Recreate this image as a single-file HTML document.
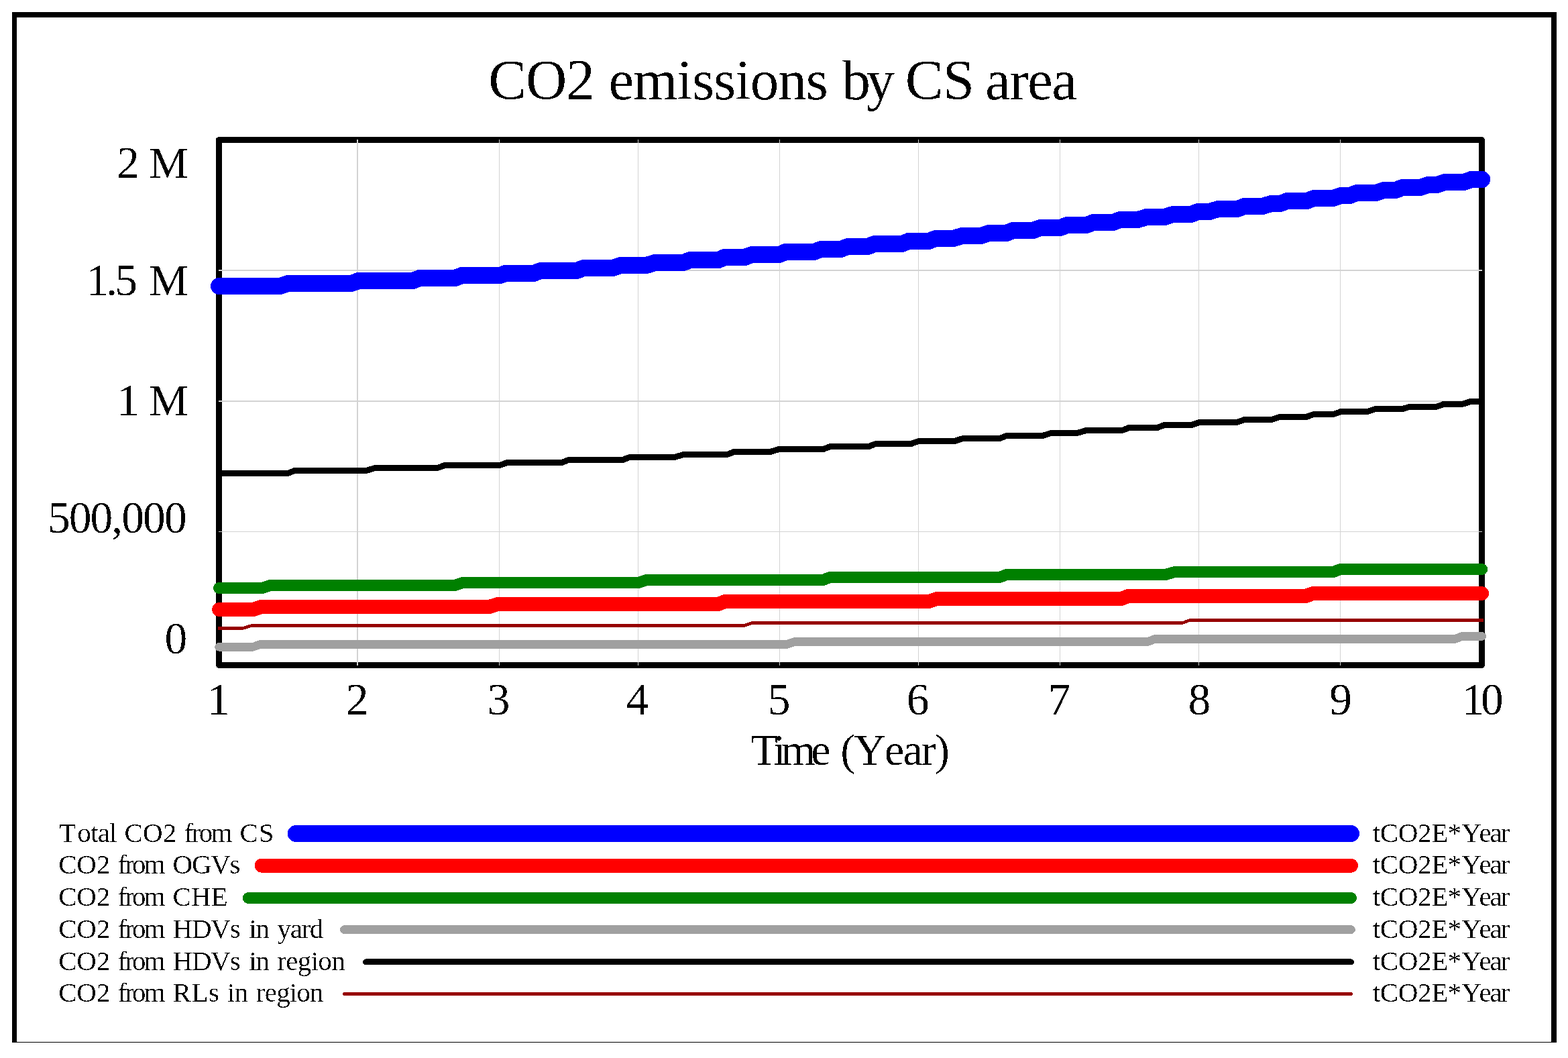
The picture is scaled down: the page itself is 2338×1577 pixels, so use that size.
<!DOCTYPE html>
<html lang="en"><head><meta charset="utf-8"><title>CO2 emissions by CS area</title>
<style>
html,body{margin:0;padding:0;background:#fff;}
html,body{width:2338px;height:1577px;}
svg{display:block;}
text{font-family:"Liberation Serif",serif;fill:#000;font-kerning:none;font-variant-ligatures:none;white-space:pre;}
.g{shape-rendering:crispEdges;}
.d{fill:none;stroke-linecap:round;stroke-linejoin:round;}
</style></head><body>
<svg width="2338" height="1577" viewBox="0 0 2338 1577">
<rect width="2338" height="1577" fill="#fff"/>
<defs><filter id="px" filterUnits="userSpaceOnUse" x="0" y="0" width="2338" height="1577" color-interpolation-filters="sRGB"><feComponentTransfer><feFuncA type="discrete" tableValues="0 0 0 1 1"/></feComponentTransfer></filter></defs>
<g class="g" fill="#000">
<rect x="18" y="18" width="7" height="1536"/>
<rect x="18" y="18" width="2303" height="8"/>
<rect x="2313" y="18" width="8" height="1536"/>
<rect x="18" y="1553" width="2303" height="1"/>
</g>
<rect class="g" x="326.5" y="208.5" width="1883.0" height="783.0" fill="none" stroke="#000" stroke-width="9" stroke-linejoin="round"/>
<g class="g" fill="#d3d3d3">
<rect x="532" y="208" width="2" height="784"/>
<rect x="744" y="208" width="1" height="784"/>
<rect x="951" y="208" width="1" height="784"/>
<rect x="1162" y="208" width="1" height="784"/>
<rect x="1369" y="208" width="1" height="784"/>
<rect x="1580" y="208" width="1" height="784"/>
<rect x="1787" y="208" width="1" height="784"/>
<rect x="1998" y="208" width="1" height="784"/>
<rect x="326" y="402" width="1884" height="2"/>
<rect x="326" y="597" width="1884" height="2"/>
<rect x="326" y="792" width="1884" height="1"/>
</g>
<g class="d" shape-rendering="crispEdges">
<polyline points="326.5,426.5 417.25,426.5 429.65,422.5 523.55,422.5 534.85,418.5 615.45,418.5 625.75,414.5 678.35,414.5 688.75,410.5 745.45,410.5 753.75,407.5 795.65,407.5 805.95,403.5 860.25,403.5 869.95,399.5 913.35,399.5 925.75,395.5 963.95,395.5 976.35,391.5 1019.25,391.5 1028.95,387.5 1071.25,387.5 1080.55,383.5 1110.55,383.5 1120.85,379.5 1162.15,379.5 1171.45,375.5 1213.75,375.5 1224.05,371.5 1253.65,371.5 1263.95,367.5 1293.85,367.5 1304.15,363.5 1344.85,363.5 1354.75,359.5 1384.75,359.5 1395.05,355.5 1421.85,355.5 1434.25,351.5 1462.15,351.5 1474.55,347.5 1500.35,347.5 1510.65,343.5 1540.55,343.5 1550.85,339.5 1580.85,339.5 1591.15,335.5 1620.05,335.5 1630.35,331.5 1659.25,331.5 1670.65,327.5 1696.35,327.5 1709.75,323.5 1736.65,323.5 1749.05,319.5 1775.85,319.5 1786.15,315.5 1803.75,315.5 1816.15,311.5 1845.05,311.5 1855.35,307.5 1882.15,307.5 1895.65,303.5 1909.05,303.5 1919.35,299.5 1948.25,299.5 1959.65,295.5 1987.45,295.5 1999.85,291.5 2012.25,291.5 2023.65,287.5 2051.45,287.5 2063.85,283.5 2080.35,283.5 2091.75,279.5 2117.55,279.5 2129.95,275.5 2142.35,275.5 2154.65,271.5 2183.15,271.5 2193.85,267.5 2209.7,267.5" stroke="#0000ff" stroke-width="25"/>
<polyline points="326.5,908.5 377.59,908.5 389.29,904.5 729.49,904.5 742.29,900.5 1070.69,900.5 1081.09,896.5 1385.09,896.5 1396.69,892.5 1671.99,892.5 1682.39,888.5 1946.89,888.5 1957.79,884.5 2209.7,884.5" stroke="#ff0000" stroke-width="21"/>
<polyline points="326.5,876.5 391.23,876.5 402.83,872.5 678.03,872.5 689.63,868.5 952.53,868.5 963.43,864.5 1227.03,864.5 1237.53,860.5 1490.43,860.5 1500.93,856.5 1737.83,856.5 1751.73,852.5 1988.33,852.5 1998.43,848.5 2209.7,848.5" stroke="#008000" stroke-width="17"/>
<polyline points="326.5,964.4 376.83,964.4 388.53,960.4 1173.23,960.4 1184.83,956.4 1711.83,956.4 1722.33,952.4 2169.93,952.4 2179.93,948.4 2209.7,948.4" stroke="#a0a0a0" stroke-width="12.6"/>
<polyline points="326.5,705.5 429.21,705.5 439.51,701.5 545.81,701.5 559.31,697.5 652.21,697.5 663.51,693.5 745.11,693.5 756.41,689.5 837.61,689.5 847.91,685.5 928.41,685.5 938.71,681.5 1005.81,681.5 1019.31,677.5 1084.31,677.5 1094.61,673.5 1148.31,673.5 1161.71,669.5 1227.81,669.5 1238.11,665.5 1295.51,665.5 1305.81,661.5 1358.51,661.5 1369.81,657.5 1423.51,657.5 1435.91,653.5 1490.61,653.5 1500.91,649.5 1554.61,649.5 1567.01,645.5 1606.21,645.5 1619.61,641.5 1673.31,641.5 1683.61,637.5 1725.61,637.5 1736.11,633.5 1776.71,633.5 1788.31,629.5 1844.11,629.5 1855.71,625.5 1896.31,625.5 1908.01,621.5 1947.41,621.5 1959.11,617.5 1988.11,617.5 1999.71,613.5 2039.21,613.5 2050.81,609.5 2091.41,609.5 2103.11,606 2142.51,606 2154.11,602 2182.01,602 2192.51,598.5 2209.7,598.5" stroke="#000000" stroke-width="9" stroke-linecap="butt"/>
<polyline points="324.5,936.45 362.21,936.45 375.01,932.45 1109.81,932.45 1121.41,928.45 1763.41,928.45 1773.81,924.55 2211.7,924.55" stroke="#960000" stroke-width="4.6" stroke-linecap="butt"/>
</g>
<g class="d" shape-rendering="crispEdges">
<line x1="441.2" y1="1242.5" x2="2014.5" y2="1242.5" stroke="#0000ff" stroke-width="25"/>
<line x1="390.2" y1="1290.3" x2="2014.6" y2="1290.3" stroke="#ff0000" stroke-width="21"/>
<line x1="370.3" y1="1338.5" x2="2014.5" y2="1338.5" stroke="#008000" stroke-width="17"/>
<line x1="513.3" y1="1385.6" x2="2014.6" y2="1385.6" stroke="#a0a0a0" stroke-width="12.6"/>
<line x1="545.5" y1="1433.9" x2="2014.4" y2="1433.9" stroke="#000000" stroke-width="9"/>
<line x1="513.2" y1="1481.5" x2="2014.7" y2="1481.5" stroke="#960000" stroke-width="4.6"/>
</g>
<g filter="url(#px)">
<text y="147.8" font-size="85"><tspan x="728.31" letter-spacing="-1.01">CO</tspan><tspan x="843.79" font-size="86.8">2</tspan> <tspan x="907.48" letter-spacing="-1">emissions</tspan> <tspan x="1255.4" letter-spacing="-6.17">by</tspan> <tspan x="1349.71" letter-spacing="-0.61">CS</tspan> <tspan x="1468.91" letter-spacing="-1.48">area</tspan></text>
<text y="264.9" font-size="66"><tspan x="173.9" font-size="67.5">2</tspan> <tspan x="222.17">M</tspan></text>
<text y="439.9" font-size="66"><tspan x="128.57" font-size="67.5" letter-spacing="-4">1.5</tspan> <tspan x="222.17">M</tspan></text>
<text y="619" font-size="66"><tspan x="174.14" font-size="67.5">1</tspan> <tspan x="222.17">M</tspan></text>
<text y="794.3" font-size="66"><tspan x="70.88" font-size="67.5" letter-spacing="-1.93">500,000</tspan></text>
<text y="973.6" font-size="66"><tspan x="245.58" font-size="67.5">0</tspan></text>
<text x="308.99" y="1065.3" font-size="67.5">1</text>
<text x="515.83" y="1065.3" font-size="67.5">2</text>
<text x="726.83" y="1065.3" font-size="67.5">3</text>
<text x="933.59" y="1065.3" font-size="67.5">4</text>
<text x="1144.78" y="1065.3" font-size="67.5">5</text>
<text x="1351.68" y="1065.3" font-size="67.5">6</text>
<text x="1562.87" y="1065.3" font-size="67.5">7</text>
<text x="1771.53" y="1065.3" font-size="67.5">8</text>
<text x="1982.22" y="1065.3" font-size="67.5">9</text>
<text x="2179.77" y="1065.3" font-size="67.5" letter-spacing="-5.5">10</text>
<text y="1140.1" font-size="66"><tspan x="1119.41" letter-spacing="-6.7">Time</tspan> <tspan x="1253.2" letter-spacing="-1.9">(Year)</tspan></text>
<text y="1254.8" font-size="41"><tspan x="88.16">T</tspan><tspan x="115.34" letter-spacing="-0.7">otal</tspan> <tspan x="185.52" letter-spacing="0.14">CO2</tspan> <tspan x="274.74" letter-spacing="-2.63">from</tspan> <tspan x="357.52" letter-spacing="0.78">CS</tspan></text>
<text y="1254.8" font-size="41"><tspan x="2046.7" letter-spacing="-0.34">tCO2E</tspan><tspan x="2158.4">*</tspan><tspan x="2179.14">Y</tspan><tspan x="2205.4" letter-spacing="-2.04">ear</tspan></text>
<text y="1301.6" font-size="41"><tspan x="87.22" letter-spacing="-0.21">CO2</tspan> <tspan x="175.64" letter-spacing="-2.93">from</tspan> <tspan x="257.52" letter-spacing="-1.24">OGVs</tspan></text>
<text y="1301.6" font-size="41"><tspan x="2046.7" letter-spacing="-0.34">tCO2E</tspan><tspan x="2158.4">*</tspan><tspan x="2179.14">Y</tspan><tspan x="2205.4" letter-spacing="-2.04">ear</tspan></text>
<text y="1349.7" font-size="41"><tspan x="87.22" letter-spacing="-0.21">CO2</tspan> <tspan x="175.64" letter-spacing="-2.93">from</tspan> <tspan x="257.52" letter-spacing="0.11">CHE</tspan></text>
<text y="1349.7" font-size="41"><tspan x="2046.7" letter-spacing="-0.34">tCO2E</tspan><tspan x="2158.4">*</tspan><tspan x="2179.14">Y</tspan><tspan x="2205.4" letter-spacing="-2.04">ear</tspan></text>
<text y="1397.6" font-size="41"><tspan x="87.22" letter-spacing="-0.21">CO2</tspan> <tspan x="175.64" letter-spacing="-2.93">from</tspan> <tspan x="257.62" letter-spacing="-1.27">HDVs</tspan> <tspan x="371.34" letter-spacing="-1.41">in</tspan> <tspan x="413.6" letter-spacing="-1.38">yard</tspan></text>
<text y="1397.6" font-size="41"><tspan x="2046.7" letter-spacing="-0.34">tCO2E</tspan><tspan x="2158.4">*</tspan><tspan x="2179.14">Y</tspan><tspan x="2205.4" letter-spacing="-2.04">ear</tspan></text>
<text y="1445.8" font-size="41"><tspan x="87.22" letter-spacing="-0.21">CO2</tspan> <tspan x="175.64" letter-spacing="-2.93">from</tspan> <tspan x="257.62" letter-spacing="-1.27">HDVs</tspan> <tspan x="371.34" letter-spacing="-1.41">in</tspan> <tspan x="413.28" letter-spacing="-0.66">region</tspan></text>
<text y="1445.8" font-size="41"><tspan x="2046.7" letter-spacing="-0.34">tCO2E</tspan><tspan x="2158.4">*</tspan><tspan x="2179.14">Y</tspan><tspan x="2205.4" letter-spacing="-2.04">ear</tspan></text>
<text y="1493.1" font-size="41"><tspan x="87.22" letter-spacing="-0.21">CO2</tspan> <tspan x="175.64" letter-spacing="-2.93">from</tspan> <tspan x="257.62" letter-spacing="0.51">RLs</tspan> <tspan x="339.04" letter-spacing="-0.91">in</tspan> <tspan x="382.08" letter-spacing="-0.88">region</tspan></text>
<text y="1493.1" font-size="41"><tspan x="2046.7" letter-spacing="-0.34">tCO2E</tspan><tspan x="2158.4">*</tspan><tspan x="2179.14">Y</tspan><tspan x="2205.4" letter-spacing="-2.04">ear</tspan></text>
</g>
</svg>
</body></html>
